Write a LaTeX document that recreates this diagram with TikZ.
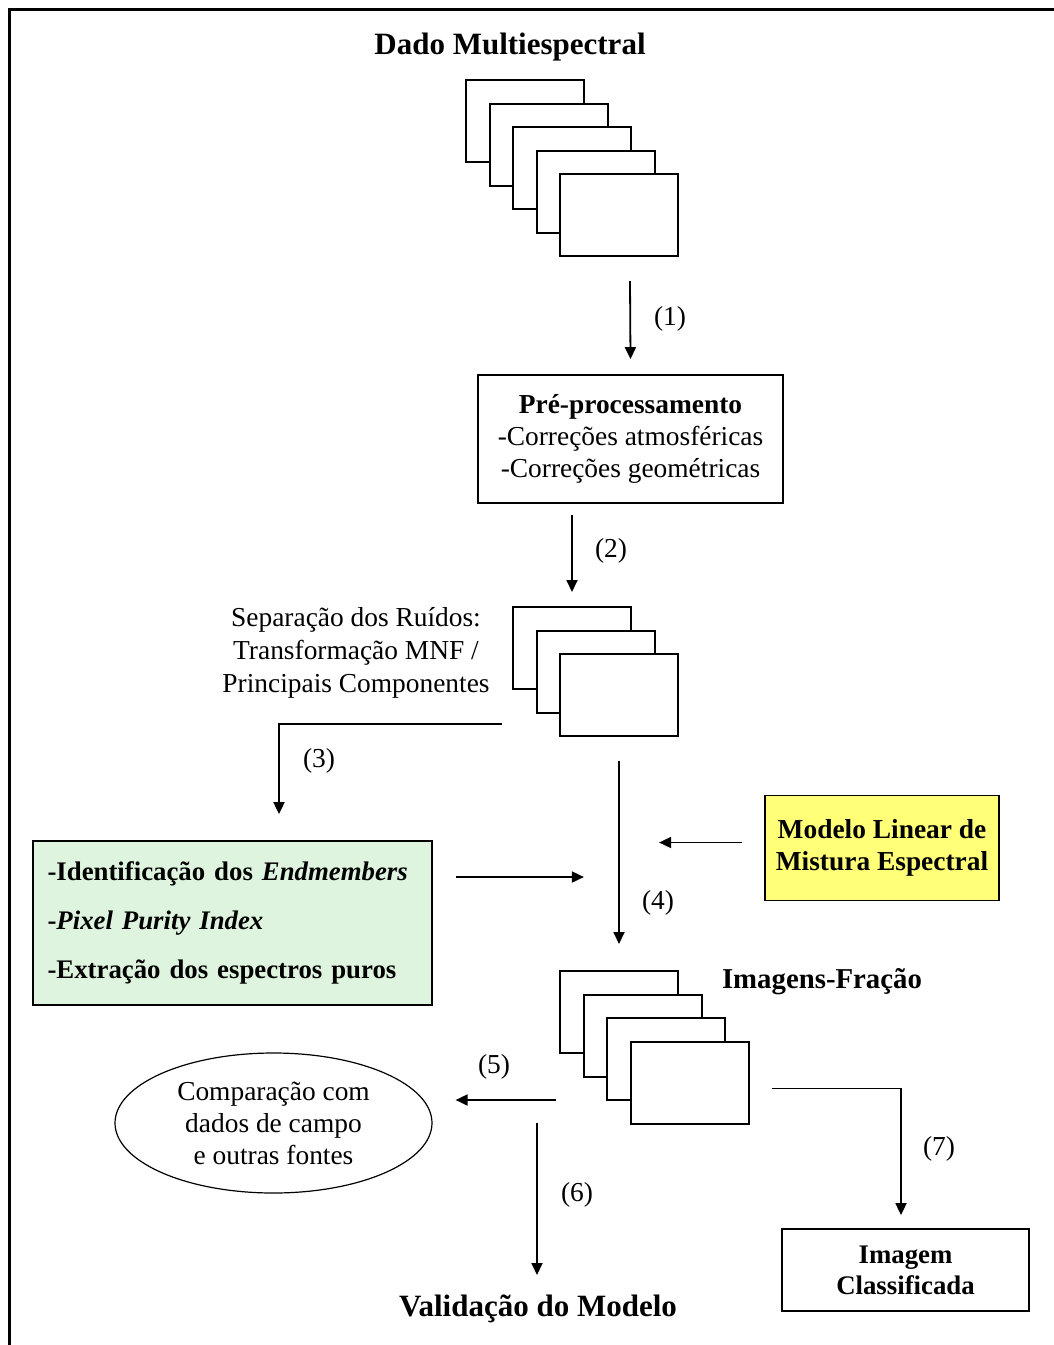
\documentclass[tikz,border=0pt]{standalone}
\usepackage{fontspec}
\setmainfont{Liberation Serif}
\usetikzlibrary{arrows.meta,positioning,shapes.geometric}

\definecolor{mintbg}{RGB}{222,244,222}
\definecolor{lemonbg}{RGB}{255,255,120}

\begin{document}
\begin{tikzpicture}[
    x=0.5pt, y=-0.5pt,
    frame/.style={rectangle, draw=black, line width=1pt, fill=white, inner sep=0pt,
                  minimum width=59pt, minimum height=41pt},
    box/.style={rectangle, draw=black, line width=0.9pt, inner sep=0pt, align=center},
    title/.style={font=\bfseries\fontsize{15.5}{18}\selectfont},
    txt/.style={font=\fontsize{13.7}{16}\selectfont, align=center},
    lbl/.style={font=\fontsize{13.7}{16}\selectfont},
    arrow/.style={-{Triangle[length=6pt,width=5.5pt]}, line width=0.9pt}
]

\useasboundingbox (0,0) rectangle (1054,1345);

% Outer frame (top and left only)
\draw[line width=1.5pt] (9,1345) -- (9,9) -- (1054,9);

% Multispectral data
\node[title] (dado) at (510,47) {Dado Multiespectral};
\foreach \i in {0,...,4}
    \node[frame] (dm\i) at (525+23.5*\i, 121+23.5*\i) {};

% Arrow (1) to pre-processing
\node[box, minimum width=152.5pt, minimum height=64pt,
      font=\fontsize{13.7}{16}\selectfont] (pre) at (630.5,439)
    {\textbf{Pré-processamento}\\-Correções atmosféricas\\-Correções geométricas};
\draw[arrow] ([xshift=5.5pt,yshift=-12pt]dm4.south) -- ([yshift=7.5pt]pre.north);
\node[lbl] (l1) at (670,319) {(1)};

% Noise separation
\foreach \i in {0,...,2}
    \node[frame] (nf\i) at (572+23.5*\i, 648+23.5*\i) {};
\node[txt, font=\fontsize{13.7}{16.5}\selectfont] (mnf) at (356,653)
    {Separação dos Ruídos:\\Transformação MNF /\\Principais Componentes};
\draw[arrow] ([yshift=-5.5pt]pre.south -| nf0) -- ([yshift=7pt]nf0.north);
\node[lbl] (l2) at (611,551) {(2)};

% Endmembers
\node[box, fill=mintbg, minimum width=199.5pt, minimum height=82pt,
      text width=185pt, align=left,
      font=\bfseries\fontsize{13.4}{24.5}\selectfont] (green) at (232.5,923)
    {-Identificação dos \textit{Endmembers}\\-\textit{Pixel Purity Index}\\-Extração dos espectros puros};
\coordinate (n3) at (502,724);
\draw[arrow] (n3) -| ([xshift=23.25pt,yshift=13pt]green.north);
\node[lbl] (l3) at (319,761) {(3)};

% Linear mixing model
\node[box, fill=lemonbg, minimum width=117pt, minimum height=52.5pt,
      font=\bfseries\fontsize{13.7}{16}\selectfont] (mlme) at (882,848)
    {Modelo Linear de\\Mistura Espectral};

% Fraction images
\foreach \i in {0,...,3}
    \node[frame] (if\i) at (619+23.5*\i, 1012+23.5*\i) {};
\node[title, font=\bfseries\fontsize{14.4}{17}\selectfont] (frac) at (822,982) {Imagens-Fração};

% Arrow (4) and side inputs
\draw[arrow] ([yshift=-12pt]nf2.south) -- ([yshift=13pt]if0.north);
\node[lbl] (l4) at (658,903) {(4)};
\draw[arrow] ([xshift=11.5pt,yshift=23pt]green.east) -- ++(128,0);
\draw[arrow] ([xshift=-11pt,yshift=2.75pt]mlme.west) -- ++(-83,0);

% Comparison
\node[ellipse, draw=black, line width=0.6pt, inner sep=0pt,
      minimum width=158.5pt, minimum height=70pt, txt] (cmp) at (273.5,1123)
    {Comparação com\\dados de campo\\e outras fontes};
\draw[arrow] ([xshift=-1.5pt,yshift=-44pt]if0.west) -- ([xshift=11.5pt,yshift=11.5pt]cmp.east);
\node[lbl] (l5) at (494,1067) {(5)};

% Validation
\node[title] (valid) at (538,1309) {Validação do Modelo};
\coordinate (v6) at (537,1123);
\coordinate (v6e) at (537,1275);
\draw[arrow] (v6) -- (v6e);
\node[lbl] (l6) at (577,1195) {(6)};

% Classified image
\node[box, minimum width=123.5pt, minimum height=41pt,
      font=\bfseries\fontsize{13.4}{15.5}\selectfont] (cls) at (905.5,1270)
    {Imagem\\Classificada};
\draw[arrow] ([xshift=11pt,yshift=-3pt]if3.east) -| ([xshift=-2.25pt,yshift=6.5pt]cls.north);
\node[lbl] (l7) at (939,1149) {(7)};

\end{tikzpicture}
\end{document}
